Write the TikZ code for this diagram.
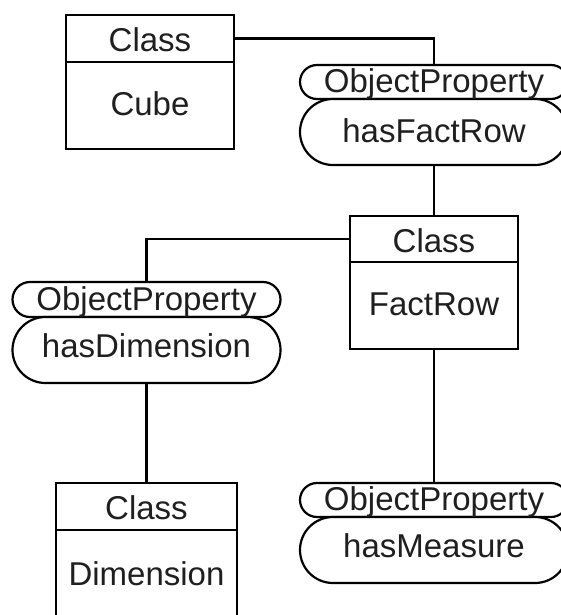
\documentclass[tikz,border=0pt]{standalone}
\usepackage{fontspec}
\setmainfont{Liberation Sans}
\usetikzlibrary{shapes.misc,calc}

\tikzset{
  boxpart/.style={draw, rectangle, line width=2.2pt, inner sep=0pt, outer sep=0pt, fill=white},
  pill/.style={draw, rounded rectangle, line width=2.2pt, inner sep=0pt, outer sep=0pt,
               minimum width=268pt, fill=white},
  lbl/.style={anchor=base, inner sep=0pt, font=\fontsize{33}{38}\selectfont, text=black!88},
  link/.style={line width=2.2pt}
}

\begin{document}
\begin{tikzpicture}[x=1pt, y=-1pt]
\clip (0,0) rectangle (561,615);

% Class Cube
\node[boxpart, minimum width=168pt, minimum height=47pt, anchor=north] (cubeH) at (150,15) {};
\node[boxpart, minimum width=168pt, minimum height=87pt, anchor=north] (cubeB) at (cubeH.south) {};
\node[lbl] (cubeHt) at ($(cubeH.north)+(0,37)$) {Class};
\node[lbl] (cubeBt) at ($(cubeB.north)+(0,53)$) {Cube};

% ObjectProperty hasFactRow
\node[pill, minimum height=34pt, anchor=north] (frOP) at (434,65) {};
\node[pill, minimum height=66pt, anchor=north] (frM) at (frOP.south) {};
\node[lbl] (frOPt) at ($(frOP.north)+(0,28)$) {ObjectProperty};
\node[lbl] (frMt) at ($(frM.north)+(0,43)$) {hasFactRow};

% Class FactRow
\node[boxpart, minimum width=168pt, minimum height=46pt, anchor=north] (factH) at (434,216) {};
\node[boxpart, minimum width=168pt, minimum height=87pt, anchor=north] (factB) at (factH.south) {};
\node[lbl] (factHt) at ($(factH.north)+(0,36)$) {Class};
\node[lbl] (factBt) at ($(factB.north)+(0,53)$) {FactRow};

% ObjectProperty hasDimension
\node[pill, minimum height=35pt, anchor=north] (dmOP) at (146.5,282) {};
\node[pill, minimum height=66pt, anchor=north] (dmM) at (dmOP.south) {};
\node[lbl] (dmOPt) at ($(dmOP.north)+(0,28)$) {ObjectProperty};
\node[lbl] (dmMt) at ($(dmM.north)+(0,40)$) {hasDimension};

% Class Dimension
\node[boxpart, minimum width=181pt, minimum height=47pt, anchor=north] (dimH) at (146.5,483) {};
\node[boxpart, minimum width=181pt, minimum height=110pt, anchor=north] (dimB) at (dimH.south) {};
\node[lbl] (dimHt) at ($(dimH.north)+(0,36)$) {Class};
\node[lbl] (dimBt) at ($(dimB.north)+(0,55)$) {Dimension};

% ObjectProperty hasMeasure
\node[pill, minimum height=34pt, anchor=north] (msOP) at (434,483) {};
\node[pill, minimum height=66pt, anchor=north] (msM) at (msOP.south) {};
\node[lbl] (msOPt) at ($(msOP.north)+(0,27)$) {ObjectProperty};
\node[lbl] (msMt) at ($(msM.north)+(0,40)$) {hasMeasure};

% Connectors
\draw[link] (cubeH.east) -| (frOP.north);
\draw[link] (frM.south) -- (factH.north);
\draw[link] (factH.west) -| (dmOP.north);
\draw[link] (dmM.south) -- (dimH.north);
\draw[link] (factB.south) -- (msOP.north);
\end{tikzpicture}
\end{document}
